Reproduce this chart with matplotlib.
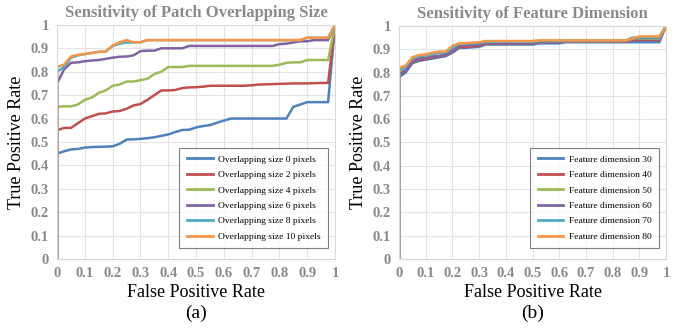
import matplotlib

matplotlib.use("Agg")
import matplotlib.pyplot as plt

# false positive rate samples (first point is the (0, 0) start of each curve)
fpr = [0.0, 0.0, 0.025, 0.05, 0.075, 0.1, 0.125, 0.15, 0.175, 0.2, 0.225,
       0.25, 0.275, 0.3, 0.325, 0.35, 0.375, 0.4, 0.425, 0.45, 0.475,
       0.5, 0.525, 0.55, 0.575, 0.6, 0.625, 0.65, 0.675, 0.7, 0.725,
       0.75, 0.775, 0.8, 0.825, 0.85, 0.875, 0.9, 0.925, 0.95, 0.975, 1.0]

# (a) patch overlapping size
overlap_labels = ["Overlapping size 0 pixels", "Overlapping size 2 pixels",
                  "Overlapping size 4 pixels", "Overlapping size 6 pixels",
                  "Overlapping size 8 pixels", "Overlapping size 10 pixels"]
ov0 = [0, 0.45, 0.46, 0.468, 0.47, 0.476, 0.478, 0.479, 0.48, 0.481, 0.492,
       0.51, 0.511, 0.513, 0.516, 0.52, 0.526, 0.532, 0.542, 0.551, 0.552,
       0.562, 0.568, 0.572, 0.582, 0.591, 0.6, 0.6, 0.6, 0.6, 0.6,
       0.6, 0.6, 0.6, 0.6, 0.65, 0.66, 0.67, 0.67, 0.67, 0.67, 1.0]
ov2 = [0, 0.55, 0.56, 0.56, 0.58, 0.6, 0.61, 0.62, 0.622, 0.63, 0.632,
       0.642, 0.656, 0.662, 0.68, 0.7, 0.72, 0.72, 0.722, 0.73, 0.733,
       0.734, 0.736, 0.74, 0.74, 0.74, 0.74, 0.74, 0.74, 0.742, 0.745,
       0.746, 0.747, 0.748, 0.749, 0.75, 0.75, 0.75, 0.751, 0.752, 0.752, 1.0]
ov4 = [0, 0.65, 0.652, 0.652, 0.66, 0.68, 0.69, 0.71, 0.72, 0.74, 0.745,
       0.758, 0.758, 0.764, 0.77, 0.79, 0.8, 0.82, 0.82, 0.82, 0.825,
       0.825, 0.825, 0.825, 0.825, 0.825, 0.825, 0.825, 0.825, 0.825, 0.825,
       0.825, 0.825, 0.83, 0.838, 0.84, 0.84, 0.85, 0.85, 0.85, 0.85, 1.0]
ov6 = [0, 0.75, 0.81, 0.838, 0.84, 0.845, 0.848, 0.85, 0.855, 0.86, 0.864,
       0.865, 0.87, 0.888, 0.89, 0.89, 0.9, 0.9, 0.9, 0.9, 0.91,
       0.91, 0.91, 0.91, 0.91, 0.91, 0.91, 0.91, 0.91, 0.91, 0.91,
       0.91, 0.91, 0.918, 0.92, 0.925, 0.93, 0.93, 0.935, 0.935, 0.935, 1.0]
ov8 = [0, 0.8, 0.82, 0.86, 0.87, 0.875, 0.88, 0.885, 0.886, 0.91, 0.92,
       0.925, 0.925, 0.926, 0.935, 0.935, 0.935, 0.935, 0.935, 0.935, 0.935,
       0.935, 0.935, 0.935, 0.935, 0.935, 0.935, 0.935, 0.935, 0.935, 0.935,
       0.935, 0.935, 0.935, 0.935, 0.935, 0.935, 0.945, 0.945, 0.945, 0.945, 1.0]
ov10 = [0, 0.82, 0.83, 0.865, 0.872, 0.876, 0.88, 0.885, 0.886, 0.912, 0.926,
        0.935, 0.926, 0.926, 0.935, 0.935, 0.935, 0.935, 0.935, 0.935, 0.935,
        0.935, 0.935, 0.935, 0.935, 0.935, 0.935, 0.935, 0.935, 0.935, 0.935,
        0.935, 0.935, 0.935, 0.935, 0.935, 0.935, 0.945, 0.945, 0.945, 0.945, 1.0]

# (b) feature dimension
feat_labels = ["Feature dimension 30", "Feature dimension 40", "Feature dimension 50",
               "Feature dimension 60", "Feature dimension 70", "Feature dimension 80"]
fd30 = [0, 0.78, 0.8, 0.84, 0.85, 0.855, 0.86, 0.865, 0.87, 0.885, 0.905,
        0.906, 0.908, 0.91, 0.92, 0.92, 0.92, 0.92, 0.92, 0.92, 0.92,
        0.92, 0.925, 0.925, 0.925, 0.925, 0.93, 0.93, 0.93, 0.93, 0.93,
        0.93, 0.93, 0.93, 0.93, 0.93, 0.93, 0.93, 0.93, 0.93, 0.93, 1.0]
fd40 = [0, 0.79, 0.81, 0.845, 0.855, 0.858, 0.865, 0.87, 0.875, 0.89, 0.91,
        0.91, 0.912, 0.915, 0.925, 0.925, 0.925, 0.925, 0.925, 0.925, 0.925,
        0.925, 0.93, 0.93, 0.93, 0.93, 0.932, 0.932, 0.932, 0.932, 0.932,
        0.932, 0.932, 0.932, 0.932, 0.932, 0.94, 0.94, 0.94, 0.94, 0.94, 1.0]
fd50 = [0, 0.8, 0.82, 0.855, 0.865, 0.87, 0.878, 0.885, 0.885, 0.9, 0.92,
        0.92, 0.922, 0.925, 0.93, 0.93, 0.93, 0.93, 0.93, 0.93, 0.93,
        0.93, 0.932, 0.932, 0.932, 0.932, 0.935, 0.935, 0.935, 0.935, 0.935,
        0.935, 0.935, 0.935, 0.935, 0.935, 0.945, 0.945, 0.945, 0.945, 0.945, 1.0]
fd60 = [0, 0.79, 0.81, 0.85, 0.86, 0.862, 0.868, 0.872, 0.878, 0.892, 0.915,
        0.916, 0.918, 0.92, 0.928, 0.928, 0.928, 0.928, 0.928, 0.928, 0.928,
        0.928, 0.932, 0.932, 0.932, 0.932, 0.935, 0.935, 0.935, 0.935, 0.935,
        0.935, 0.935, 0.935, 0.935, 0.935, 0.945, 0.948, 0.948, 0.948, 0.948, 1.0]
fd70 = [0, 0.81, 0.825, 0.86, 0.87, 0.875, 0.88, 0.885, 0.886, 0.905, 0.922,
        0.923, 0.925, 0.927, 0.932, 0.932, 0.932, 0.932, 0.932, 0.932, 0.932,
        0.932, 0.935, 0.935, 0.935, 0.935, 0.937, 0.937, 0.937, 0.937, 0.937,
        0.937, 0.937, 0.937, 0.937, 0.937, 0.95, 0.95, 0.95, 0.95, 0.95, 1.0]
fd80 = [0, 0.82, 0.83, 0.865, 0.875, 0.878, 0.885, 0.89, 0.89, 0.915, 0.925,
        0.926, 0.928, 0.93, 0.935, 0.935, 0.935, 0.935, 0.935, 0.935, 0.935,
        0.935, 0.938, 0.938, 0.938, 0.938, 0.938, 0.938, 0.938, 0.938, 0.938,
        0.938, 0.938, 0.938, 0.938, 0.938, 0.945, 0.955, 0.955, 0.955, 0.955, 1.0]

ticks = [0, 0.1, 0.2, 0.3, 0.4, 0.5, 0.6, 0.7, 0.8, 0.9, 1]
tick_labels = ["0", "0.1", "0.2", "0.3", "0.4", "0.5", "0.6", "0.7", "0.8", "0.9", "1"]

colors = ["#4F81BD", "#C0504D", "#9BBB59", "#8064A2", "#4BACC6", "#F79646"]
SERIF = ["Liberation Serif", "DejaVu Serif"]
GRAY = "#8a8a8a"

plt.rcParams["font.family"] = SERIF


def draw_panel(ax, series, labels, title, tag):
    for values, label, color in zip(series, labels, colors):
        ax.plot(fpr, values, color=color, lw=1.8, label=label, solid_joinstyle="round")
    ax.set_xlim(0, 1)
    ax.set_ylim(0, 1)
    ax.set_xticks(ticks)
    ax.set_yticks(ticks)
    ax.set_xticklabels(tick_labels)
    ax.set_yticklabels(tick_labels)
    ax.tick_params(length=0, labelsize=10.5, labelcolor=GRAY, pad=6)
    for lab in ax.get_xticklabels() + ax.get_yticklabels():
        lab.set_fontweight("bold")
    ax.grid(True, color="#e3e3e3", lw=0.8)
    ax.set_axisbelow(True)
    for sp in ax.spines.values():
        sp.set_color("#d9d9d9")
        sp.set_linewidth(0.8)
    ax.set_title(title, fontsize=12, fontweight="bold", color=GRAY, pad=6)
    ax.set_xlabel("False Positive Rate", fontsize=13, labelpad=3)
    ax.set_ylabel("True Positive Rate", fontsize=13, labelpad=4)
    leg = ax.legend(loc="lower right", fontsize=6.8, frameon=True, fancybox=False,
                    handlelength=2.7, handletextpad=0.6, borderpad=0.8,
                    labelspacing=0.72, bbox_to_anchor=(0.993, 0.025))
    leg.get_frame().set_edgecolor("#606060")
    leg.get_frame().set_linewidth(0.8)
    for line in leg.get_lines():
        line.set_linewidth(2.0)
    pos = ax.get_position()
    ax.figure.text((pos.x0 + pos.x1) / 2, 0.03, tag, ha="center", va="bottom", fontsize=14)


fig = plt.figure(figsize=(6.88, 3.32), dpi=100)
ax1 = fig.add_axes([0.083, 0.22, 0.404, 0.705])
ax2 = fig.add_axes([0.58, 0.22, 0.388, 0.702])

draw_panel(ax1, [ov0, ov2, ov4, ov6, ov8, ov10], overlap_labels,
           "Sensitivity of Patch Overlapping Size", "(a)")
draw_panel(ax2, [fd30, fd40, fd50, fd60, fd70, fd80], feat_labels,
           "Sensitivity of Feature Dimension", "(b)")

fig.savefig("out.png", dpi=100)
plt.close(fig)
